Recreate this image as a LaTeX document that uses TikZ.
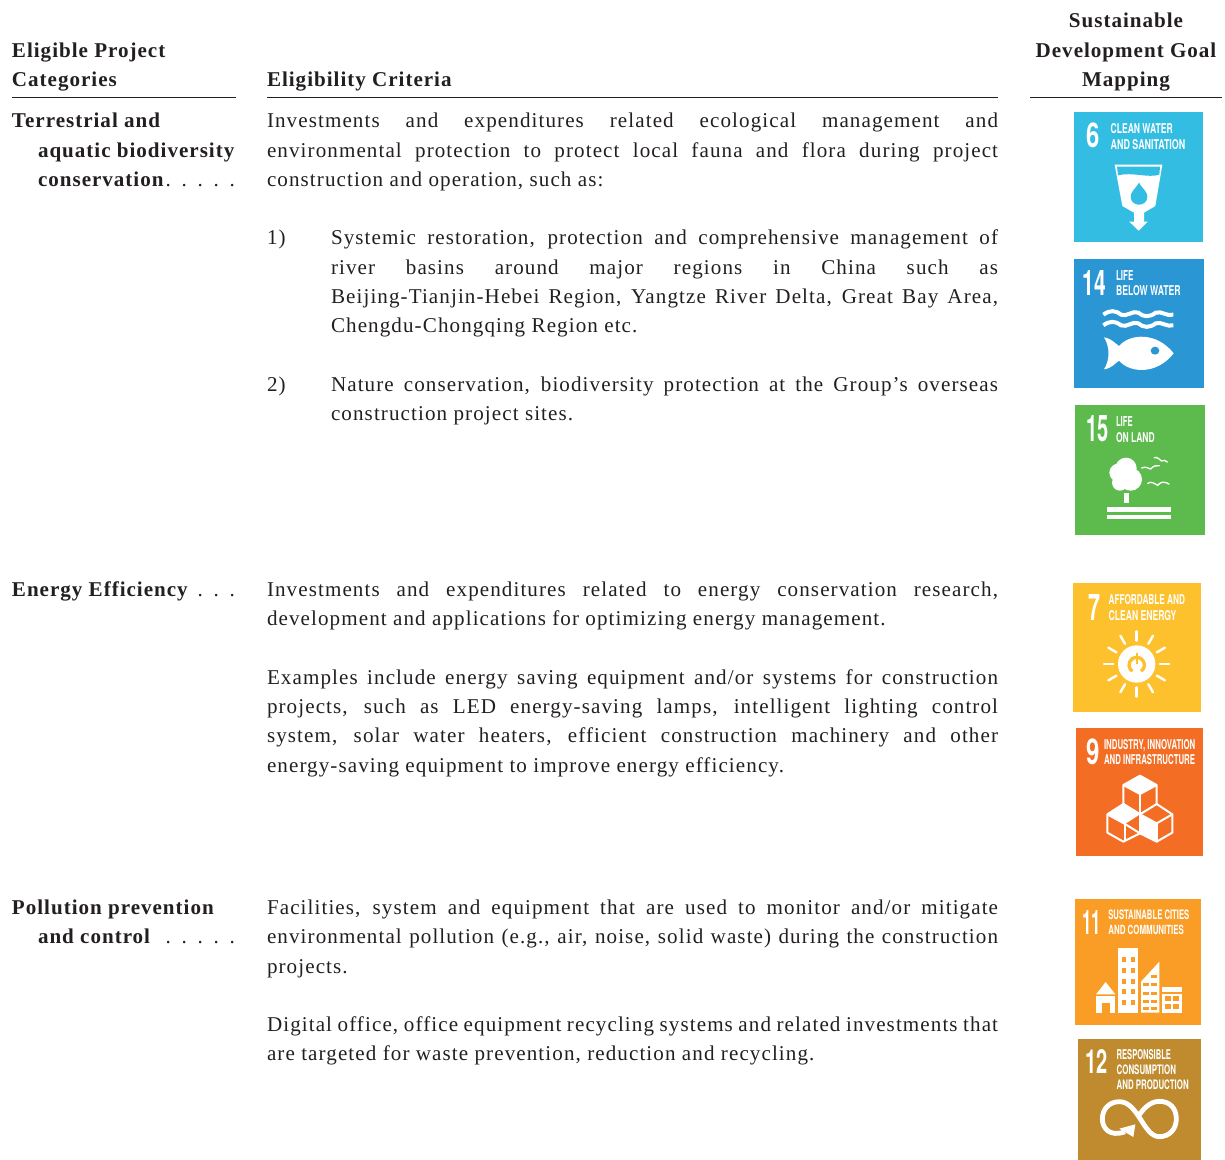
\documentclass[tikz,border=0pt]{standalone}
\usepackage{fontspec}
\usepackage{graphicx}
\setmainfont[LetterSpace=5.2,BoldFeatures={LetterSpace=4.7}]{Liberation Serif}
\setsansfont{TeX Gyre Heros}
\newdimen\pxu \pxu=0.75pt
\newdimen\sdgunit \sdgunit=0.25pt
\newcount\autono
\definecolor{sdgsix}{HTML}{33BDE3}
\definecolor{sdgfourteen}{HTML}{2A97D4}
\definecolor{sdgfifteen}{HTML}{5DBB4E}
\definecolor{sdgseven}{HTML}{FDC12D}
\definecolor{sdgnine}{HTML}{F36D24}
\definecolor{sdgeleven}{HTML}{F99D26}
\definecolor{sdgtwelve}{HTML}{BF8B2E}
\definecolor{textgrey}{HTML}{231F20}
\tikzset{
  txt/.style={anchor=base west,inner sep=0pt,outer sep=0pt,font=\fontsize{15.8pt}{18pt}\selectfont,text=textgrey},
  head/.style={txt,font=\fontsize{15.8pt}{18pt}\selectfont\bfseries},
  chead/.style={head,anchor=base},
  rule/.style={draw=textgrey,line width=0.8pt},
  sdgl/.style={anchor=north west,inner sep=0pt,outer sep=0pt,text=white},
  icn/.style={shift={#1},x=0.25pt,y=-0.25pt},
  wave/.style={draw=white,line width=3pt},
  bird/.style={draw=white,line width=1pt,line cap=round},
  ray/.style={draw=white,line width=1.8pt,line cap=round},
  cube/.style={draw=white,line width=1.5pt,line join=round}
}
\newcommand{\nxt}{\global\advance\autono by 1 }
% justified line / natural line / hanging line with leader dots
\newcommand{\jl}[3]{\nxt\node[txt] (j\the\autono) at (#1,#2) {\makebox[\numexpr998-#1\relax\pxu][s]{#3}};}
\newcommand{\nl}[3]{\nxt\node[txt] (l\the\autono) at (#1,#2) {#3};}
\newcommand{\hb}[3]{\nxt\node[head] (b\the\autono) at (#1,#2) {#3};}
\newcommand{\onedot}{\makebox[16\pxu][r]{\mdseries.}}
\newcommand{\dl}[4]{\nxt\node[txt] (d\the\autono) at (#1,#2) {\makebox[\numexpr235-#1\relax\pxu][s]{\textbf{#3}\hfill\llap{#4}}};}
% x top width height text, in zoom units
\newcommand{\sdgt}[5]{\nxt\node[sdgl] (s\the\autono) at (#1,#2) {\resizebox{#3\sdgunit}{#4\sdgunit}{\sffamily\bfseries #5}};}
\begin{document}
\begin{tikzpicture}[x=0.75pt,y=-0.75pt]
\useasboundingbox (0,0) rectangle (1225,1160);
% headers
\hb{12}{57}{Eligible Project}
\hb{12}{86}{Categories}
\hb{267}{86}{Eligibility Criteria}
\node[chead] (h1) at (1126,27) {Sustainable};
\node[chead] (h2) at (1126,57) {Development Goal};
\node[chead] (h3) at (1126,86) {Mapping};
\coordinate (r1a) at (12,97.5); \coordinate (r1b) at (236,97.5);
\coordinate (r2a) at (267,97.5); \coordinate (r2b) at (998,97.5);
\coordinate (r3a) at (1030,97.5); \coordinate (r3b) at (1222,97.5);
\draw[rule] (r1a) -- (r1b);
\draw[rule] (r2a) -- (r2b);
\draw[rule] (r3a) -- (r3b);
% left column
\hb{12}{127}{Terrestrial and}
\hb{38}{157}{aquatic biodiversity}
\dl{38}{186}{conservation}{\onedot\onedot\onedot\onedot\onedot}
\dl{12}{596}{Energy Efficiency}{\onedot\onedot\onedot}
\hb{12}{914}{Pollution prevention}
\dl{38}{943}{and control}{\onedot\onedot\onedot\onedot\onedot}
% row 1
\jl{267}{127}{Investments and expenditures related ecological management and}
\jl{267}{157}{environmental protection to protect local fauna and flora during project}
\nl{267}{186}{construction and operation, such as:}
\nl{267}{244}{1)}
\jl{331}{244}{Systemic restoration, protection and comprehensive management of}
\jl{331}{274}{river basins around major regions in China such as}
\jl{331}{303}{Beijing-Tianjin-Hebei Region, Yangtze River Delta, Great Bay Area,}
\nl{331}{332}{Chengdu-Chongqing Region etc.}
\nl{267}{391}{2)}
\jl{331}{391}{Nature conservation, biodiversity protection at the Group’s overseas}
\nl{331}{420}{construction project sites.}
% row 2
\jl{267}{596}{Investments and expenditures related to energy conservation research,}
\nl{267}{625}{development and applications for optimizing energy management.}
\jl{267}{684}{Examples include energy saving equipment and/or systems for construction}
\jl{267}{713}{projects, such as LED energy-saving lamps, intelligent lighting control}
\jl{267}{742}{system, solar water heaters, efficient construction machinery and other}
\nl{267}{772}{energy-saving equipment to improve energy efficiency.}
% row 3
\jl{267}{914}{Facilities, system and equipment that are used to monitor and/or mitigate}
\jl{267}{943}{environmental pollution (e.g., air, noise, solid waste) during the construction}
\nl{267}{973}{projects.}
\jl{267}{1031}{Digital office, office equipment recycling systems and related investments that}
\nl{267}{1060}{are targeted for waste prevention, reduction and recycling.}
% ---------- SDG 6
\begin{scope}[icn={(1060,100)}]
\fill[sdgsix] (41,36) rectangle (430,426);
\sdgt{80}{68}{40}{74}{6}
\sdgt{152}{70}{186}{30}{CLEAN WATER}
\sdgt{152}{117}{224}{30}{AND SANITATION}
\fill[white] (164,194) -- (307,194) -- (286,318) -- (252,338) -- (252,365) -- (263,365) -- (236,392) -- (208,365) -- (222,365) -- (222,338) -- (187,318) -- cycle;
\fill[sdgsix] (171,200) -- (300,200) -- (298,224) .. controls (265,235) and (215,215) .. (174,226) -- cycle;
\fill[sdgsix] (237,248) .. controls (225,268) and (212,275) .. (212,290) .. controls (212,322) and (262,322) .. (262,290) .. controls (262,275) and (249,268) .. (237,248) -- cycle;
\end{scope}
% ---------- SDG 14
\begin{scope}[icn={(1060,100)}]
\fill[sdgfourteen] (42,476) rectangle (432,864);
\sdgt{68}{510}{70}{75}{14}
\sdgt{168}{510}{52}{30}{LIFE}
\sdgt{168}{556}{194}{30}{BELOW WATER}
\foreach \wy in {644,676}{
  \draw[wave] (130,\wy) .. controls (150,\wy-14) and (165,\wy-14) .. (183,\wy) .. controls (200,\wy+8) and (218,\wy-14) .. (235,\wy-6) .. controls (250,\wy+8) and (270,\wy+8) .. (287,\wy-6) .. controls (305,\wy-12) and (320,\wy+6) .. (340,\wy);
}
\fill[white] (132,712) .. controls (155,716) and (165,730) .. (177,738) .. controls (210,700) and (290,695) .. (341,760) .. controls (290,825) and (210,820) .. (177,782) .. controls (165,790) and (155,805) .. (132,808) .. controls (150,780) and (150,740) .. (132,712) -- cycle;
\fill[sdgfourteen] (285,752) circle[x radius=13,y radius=12];
\end{scope}
% ---------- SDG 15
\begin{scope}[icn={(1060,400)}]
\fill[sdgfifteen] (44,16) rectangle (434,406);
\sdgt{78}{47}{67}{78}{15}
\sdgt{168}{50}{50}{30}{LIFE}
\sdgt{168}{98}{116}{30}{ON LAND}
\fill[white] (198,205) circle[radius=32];
\fill[white] (175,218) circle[radius=27];
\fill[white] (212,238) circle[radius=34];
\fill[white] (180,248) circle[radius=24];
\fill[white] (193,280) rectangle (206,310);
\fill[white] (141,322) rectangle (332,336);
\fill[white] (141,345) rectangle (332,358);
\draw[bird] (245,204) .. controls (258,198) and (262,205) .. (272,207) .. controls (280,198) and (288,195) .. (298,197);
\draw[bird] (283,173) .. controls (292,170) and (300,180) .. (305,183) .. controls (310,178) and (316,182) .. (322,186);
\draw[bird] (263,250) .. controls (275,242) and (285,252) .. (293,256) .. controls (303,243) and (315,245) .. (327,252);
\end{scope}
% ---------- SDG 7
\begin{scope}[icn={(1060,400)}]
\fill[sdgseven] (39,548) rectangle (424,936);
\sdgt{86}{582}{36}{78}{7}
\sdgt{146}{582}{229}{30}{AFFORDABLE AND}
\sdgt{146}{630}{203}{30}{CLEAN ENERGY}
\fill[white] (230,792) circle[radius=56];
\draw[sdgseven,line width=2.5pt] (230,795) ++(55:23) arc[start angle=55,end angle=-235,radius=23];
\draw[sdgseven,line width=1.3pt] (230,760) -- (230,792);
\foreach \ra in {0,30,...,330}{
  \draw[ray] (230,792) ++(\ra:70) -- ++(\ra:28);
}
\end{scope}
% ---------- SDG 9
\begin{scope}[icn={(1060,720)}]
\fill[sdgnine] (48,24) rectangle (429,408);
\sdgt{78}{55}{40}{77}{9}
\sdgt{132}{57}{274}{30}{INDUSTRY, INNOVATION}
\sdgt{132}{102}{273}{30}{AND INFRASTRUCTURE}
\fill[white] (240,167) -- (290,195) -- (240,222) -- (190,195) -- cycle;
\fill[white] (190,252) -- (240,283) -- (195,312) -- (142,283) -- cycle;
\fill[white] (240,283) -- (290,310) -- (290,365) -- (240,340) -- cycle;
\draw[cube] (240,167) -- (290,195) -- (290,252) -- (240,283) -- (190,252) -- (190,195) -- cycle;
\draw[cube] (190,195) -- (240,222) -- (290,195);
\draw[cube] (240,222) -- (240,283);
\draw[cube] (190,252) -- (240,283) -- (240,340) -- (190,365) -- (142,338) -- (142,283) -- cycle;
\draw[cube] (142,283) -- (195,312) -- (240,340);
\draw[cube] (195,312) -- (195,362);
\draw[cube] (290,252) -- (337,283) -- (337,338) -- (290,365) -- (240,340);
\draw[cube] (240,283) -- (290,310) -- (337,283);
\draw[cube] (290,310) -- (290,365);
\end{scope}
% ---------- SDG 11
\begin{scope}[icn={(1060,720)}]
\fill[sdgeleven] (45,537) rectangle (423,914);
\sdgt{66}{570}{56}{72}{11}
\sdgt{145}{570}{243}{29}{SUSTAINABLE CITIES}
\sdgt{145}{615}{227}{28}{AND COMMUNITIES}
\fill[white] (108,823) -- (137,786) -- (166,823) -- cycle;
\fill[white] (108,829) rectangle (166,878);
\fill[sdgeleven] (125,848) rectangle (150,878);
\fill[white] (175,685) rectangle (233,878);
\foreach \wy in {712,744,776,808,840}{
  \fill[sdgeleven] (185,\wy) rectangle (197,\wy+15);
  \fill[sdgeleven] (212,\wy) rectangle (224,\wy+15);
}
\fill[white] (243,878) -- (243,785) -- (298,725) -- (298,878) -- cycle;
\foreach \wy in {790,815,840,862}{
  \fill[sdgeleven] (250,\wy) rectangle (266,\wy+9);
  \fill[sdgeleven] (274,\wy) rectangle (291,\wy+9);
}
\fill[sdgeleven] (274,765) rectangle (291,774);
\fill[white] (307,800) rectangle (365,878);
\fill[sdgeleven] (307,815) rectangle (365,821);
\foreach \wy in {828,852}{
  \fill[sdgeleven] (316,\wy) rectangle (332,\wy+14);
  \fill[sdgeleven] (340,\wy) rectangle (357,\wy+14);
}
\end{scope}
% ---------- SDG 12
\begin{scope}[icn={(1060,1030)}]
\fill[sdgtwelve] (54,27) rectangle (423,390);
\sdgt{75}{58}{67}{72}{12}
\sdgt{170}{58}{163}{30}{RESPONSIBLE}
\sdgt{170}{103}{178}{29}{CONSUMPTION}
\sdgt{170}{148}{216}{29}{AND PRODUCTION}
\draw[white,line width=3.6pt] (195,305) .. controls (150,322) and (127,295) .. (127,267) .. controls (127,235) and (150,215) .. (178,215) .. controls (235,215) and (250,320) .. (298,320) .. controls (330,320) and (349,295) .. (349,267) .. controls (349,235) and (330,214) .. (298,214) .. controls (265,214) and (245,245) .. (232,262);
\fill[white] (178,296) -- (226,283) -- (220,321) -- cycle;
\end{scope}
\end{tikzpicture}
\end{document}
